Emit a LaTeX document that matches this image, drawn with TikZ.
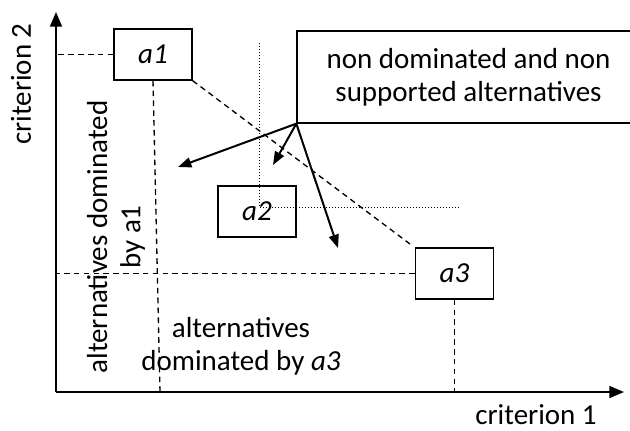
\documentclass[tikz,border=0pt]{standalone}
\usepackage{fontspec}
\setmainfont{Carlito}
\usetikzlibrary{arrows.meta,positioning,calc}
\newcommand{\figfont}{\fontsize{21.75}{25}\selectfont}
\tikzset{
  alt/.style={rectangle, draw=black, line width=1pt, minimum width=58.5pt, minimum height=38.25pt, inner sep=0pt, font=\figfont\itshape},
  zone/.style={rectangle, draw=black, line width=1pt, minimum width=257.25pt, minimum height=69pt, align=center, inner sep=0pt},
  axis/.style={draw, line width=1.3pt, -{Triangle[length=11pt,width=9pt]}},
  line/.style={draw, line width=1.5pt, -{Triangle[length=10pt,width=7.5pt]}},
  dom/.style={draw, line width=1pt, dash pattern=on 4.2pt off 3.2pt},
  proj/.style={draw, line width=0.7pt, dash pattern=on 0.75pt off 1.5pt},
  lab/.style={align=center, inner sep=0pt},
}
\begin{document}
\begin{tikzpicture}[x=0.75pt, y=-0.75pt, font=\figfont]
  \useasboundingbox (0,0) rectangle (630,430);

  % axes
  \coordinate (o) at (56,392);
  \coordinate (xend) at (624,392);
  \coordinate (yend) at (56,12);
  \path[axis] (o) -- (xend);
  \path[axis] (o) -- (yend);
  \node[lab, rotate=90] (c2) at (21,84) {criterion 2};
  \node[lab, anchor=base] (c1) at (536,424) {criterion 1};

  % alternatives
  \node[alt] (a1) at (153,54.5) {a1};
  \node[alt] (a2) at (257,211.5) {a2};
  \node[alt] (a3) at (454.5,273.5) {a3};
  \node[zone] (nondom) at (468.5,77) {non dominated and non\\supported alternatives};

  % dominated zones
  \coordinate (f1) at (160,392);
  \coordinate (d3) at (410,244);
  \path[dom] (a1.west) -- (a1.west -| o);
  \path[dom] (a1.south) -- (f1);
  \path[dom] (a1.south east) -- (d3);
  \path[dom] (a3.west) -- (a3.west -| o);
  \path[dom] (a3.south) -- (a3.south |- o);

  % a2 projections
  \coordinate (p2top) at (259,43);
  \coordinate (p2) at (259,207);
  \coordinate (p2right) at (460,207);
  \path[proj] (p2top) -- (p2) -- (p2right);

  % arrows
  \coordinate (t1) at (178,167);
  \coordinate (t2) at (273,165);
  \coordinate (t3) at (338,248);
  \begin{scope}[every path/.style=line]
    \path (nondom.south west) -- (t1);
    \path (nondom.south west) -- (t2);
    \path (nondom.south west) -- (t3);
  \end{scope}

  % zone labels
  \node[lab, rotate=90] (doma1) at (116,237) {alternatives dominated\\by a1};
  \node[lab] (doma3) at (241,346) {alternatives\\dominated by \textit{a3}};
\end{tikzpicture}
\end{document}
